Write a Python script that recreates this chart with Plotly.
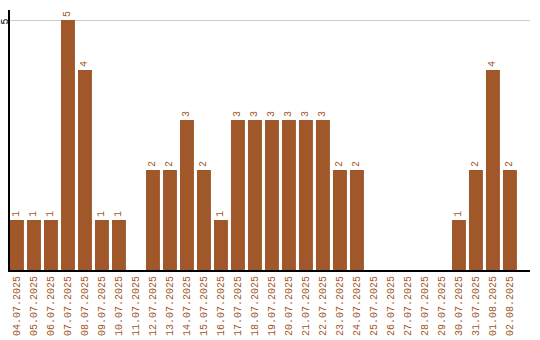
import plotly.graph_objects as go

dates = ["04.07.2025", "05.07.2025", "06.07.2025", "07.07.2025", "08.07.2025",
         "09.07.2025", "10.07.2025", "11.07.2025", "12.07.2025", "13.07.2025",
         "14.07.2025", "15.07.2025", "16.07.2025", "17.07.2025", "18.07.2025",
         "19.07.2025", "20.07.2025", "21.07.2025", "22.07.2025", "23.07.2025",
         "24.07.2025", "25.07.2025", "26.07.2025", "27.07.2025", "28.07.2025",
         "29.07.2025", "30.07.2025", "31.07.2025", "01.08.2025", "02.08.2025"]
counts = [1, 1, 1, 5, 4, 1, 1, 0, 2, 2, 3, 2, 1, 3, 3, 3, 3, 3, 3, 2, 2,
          0, 0, 0, 0, 0, 1, 2, 4, 2]

color = "#A0572A"
font = "Liberation Mono"

fig = go.Figure(go.Bar(
    x=list(range(len(dates))), y=counts,
    marker=dict(color=color, line=dict(width=0)),
    width=0.82,
    text=[str(v) if v else "" for v in counts],
    textposition="outside", textangle=-90,
    textfont=dict(family=font, size=10, color=color),
    cliponaxis=False,
))
fig.update_layout(
    width=540, height=340,
    margin=dict(l=10, r=10, t=10, b=70),
    paper_bgcolor="white", plot_bgcolor="white",
    showlegend=False,
    xaxis=dict(range=[-0.41, 30.18], tickmode="array",
               tickvals=list(range(len(dates))), ticktext=dates,
               tickangle=-90, tickfont=dict(family=font, size=10, color=color),
               showline=True, linecolor="black", linewidth=2,
               showgrid=False, ticks="", zeroline=False, automargin=False),
    yaxis=dict(range=[0, 5.2], tickvals=[5], tickangle=-90,
               tickfont=dict(family=font, size=10, color="black"),
               showline=True, linecolor="black", linewidth=2,
               showgrid=True, gridcolor="#cccccc", gridwidth=1,
               zeroline=False, ticks="", automargin=False,
               ticklabelstandoff=-4, ticklabelshift=3),
)
fig.write_html("out.html")
